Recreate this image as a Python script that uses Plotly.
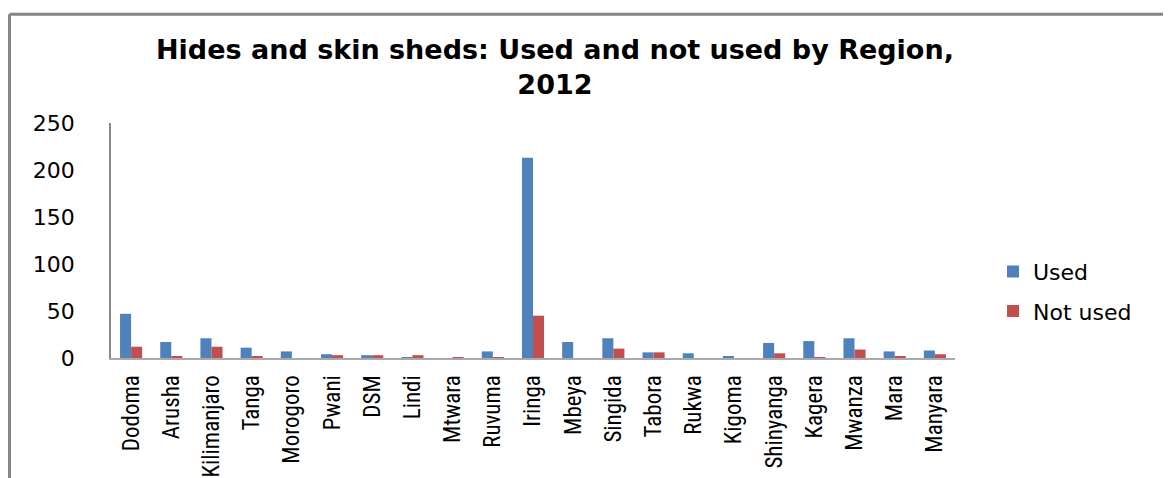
import plotly.graph_objects as go

regions = ["Dodoma", "Arusha", "Kilimanjaro", "Tanga", "Morogoro", "Pwani", "DSM",
           "Lindi", "Mtwara", "Ruvuma", "Iringa", "Mbeya", "Singida", "Tabora",
           "Rukwa", "Kigoma", "Shinyanga", "Kagera", "Mwanza", "Mara", "Manyara"]
used = [47, 17, 21, 11, 7, 4, 3, 1, 0, 7, 213, 17, 21, 6, 5, 2, 16, 18, 21, 7, 8]
not_used = [12, 2, 12, 2, 0, 3, 3, 3, 1, 1, 45, 0, 10, 6, 0, 0, 5, 1, 9, 2, 4]
y_ticks = [0, 50, 100, 150, 200, 250]

OFF = 8  # page body margin
W, H = 1171 - OFF, 478 - OFF
L, R, T, B = 111 - OFF, 955 - OFF, 123 - OFF, 358.5 - OFF

fig = go.Figure()
fig.add_trace(go.Bar(x=regions, y=used, name="Used", marker_color="#4F81BD",
                     marker_line_width=0, legendgroup="u"))
fig.add_trace(go.Bar(x=regions, y=not_used, name="Not used", marker_color="#C0504D",
                     marker_line_width=0, legendgroup="n"))

pw, ph = R - L, B - T
def px(x):
    return (x - OFF - L) / pw
def py(y):
    return (B - (y - OFF)) / ph

fig.update_layout(
    width=W, height=H,
    margin=dict(l=L, r=W - R, t=T, b=H - B, autoexpand=False),
    paper_bgcolor="white", plot_bgcolor="white",
    barmode="group", bargap=0.45, bargroupgap=0,
    font=dict(family="DejaVu Sans, sans-serif", color="#000000"),
    legend=dict(x=px(993), y=py(292), xanchor="left", yanchor="middle",
                font=dict(family="DejaVu Sans, sans-serif", size=22),
                tracegroupgap=8, itemsizing="constant"),
    showlegend=True,
)
fig.add_annotation(text="<b>Hides and skin sheds: Used and not used by Region,<br>2012</b>",
                   xref="paper", yref="paper", x=px(555), y=py(66.5),
                   xanchor="center", yanchor="middle", showarrow=False,
                   font=dict(family="DejaVu Sans, sans-serif", size=27, color="#000000"))
fig.update_yaxes(range=[0, 250], tickvals=y_ticks, showgrid=False, zeroline=False,
                 showline=True, linecolor="#888888", linewidth=1.5, ticks="",
                 ticklabelstandoff=30,
                 tickfont=dict(family="DejaVu Sans, sans-serif", size=22, color="#000000"))
fig.update_xaxes(showgrid=False, showline=True, linecolor="#AAAAAA", linewidth=2,
                 ticks="", tickangle=-90, ticklabelstandoff=6,
                 tickfont=dict(family="Liberation Sans Narrow, Roboto Condensed, Arial Narrow, sans-serif",
                               size=23, color="#000000"))

# outer chart frame (left and top edges)
frame = dict(color="#858585", width=3)
fig.add_shape(type="line", xref="paper", yref="paper",
              x0=px(9.5), x1=px(9.5), y0=py(14), y1=py(H + OFF + 5), line=frame)
fig.add_shape(type="line", xref="paper", yref="paper",
              x0=px(9.5), x1=px(W + OFF + 5), y0=py(14), y1=py(14), line=frame)

fig.write_html("out.html")
